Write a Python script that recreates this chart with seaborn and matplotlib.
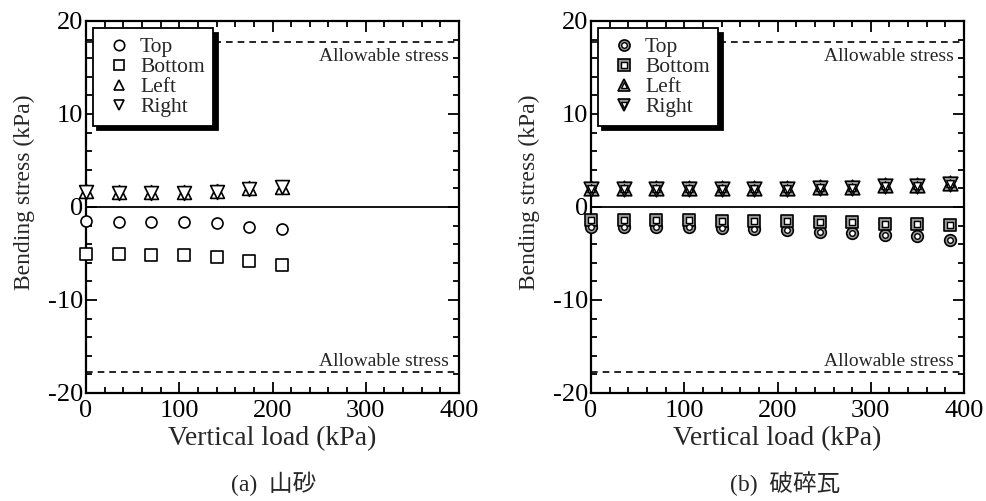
import numpy as np
import matplotlib
matplotlib.use("Agg")
import matplotlib.pyplot as plt
from matplotlib.lines import Line2D
from matplotlib.ticker import MultipleLocator
import seaborn as sns

# ── Data ──
load_a = [0, 35, 70, 105, 140, 175, 210]
top_a = [-1.5, -1.6, -1.6, -1.6, -1.7, -2.1, -2.35]
bottom_a = [-5.1, -5.1, -5.15, -5.2, -5.35, -5.85, -6.2]
left_a = [1.7, 1.6, 1.6, 1.6, 1.7, 2.0, 2.2]
right_a = [1.6, 1.5, 1.5, 1.5, 1.6, 1.9, 2.1]

load_b = [0, 35, 70, 105, 140, 175, 210, 245, 280, 315, 350, 385]
top_b = [-2.1, -2.2, -2.2, -2.2, -2.3, -2.4, -2.5, -2.65, -2.75, -3.0, -3.1, -3.5]
bottom_b = [-1.4, -1.45, -1.45, -1.45, -1.5, -1.5, -1.55, -1.6, -1.6, -1.8, -1.8, -1.95]
left_b = [2.0, 2.0, 2.0, 2.0, 2.0, 2.0, 2.05, 2.1, 2.15, 2.35, 2.4, 2.55]
right_b = [1.9, 1.9, 1.9, 1.9, 1.9, 1.9, 1.95, 2.0, 2.05, 2.25, 2.3, 2.45]

series_names = ["Top", "Bottom", "Left", "Right"]
series_markers = ["o", "s", "^", "v"]
allowable = 17.7
captions = ["(a)  山砂", "(b)  破碎瓦"]

sns.set_theme(style="ticks")
plt.rcParams["font.family"] = ["Liberation Serif", "Noto Sans CJK JP"]
plt.rcParams["axes.unicode_minus"] = False

fig = plt.figure(figsize=(9.87, 5.01), dpi=100)
ax_a = fig.add_axes([0.0871, 0.2156, 0.378, 0.7425])
ax_b = fig.add_axes([0.5988, 0.2156, 0.378, 0.7425])

outer_size = {"o": 70, "s": 75, "^": 110, "v": 110}
inner_size = {"o": 16, "s": 18, "^": 30, "v": 30}


def style_axes(ax):
    ax.set_xlim(0, 400)
    ax.set_ylim(-20, 20)
    ax.xaxis.set_major_locator(MultipleLocator(100))
    ax.xaxis.set_minor_locator(MultipleLocator(20))
    ax.yaxis.set_major_locator(MultipleLocator(10))
    ax.yaxis.set_minor_locator(MultipleLocator(2))
    ax.tick_params(which="both", direction="in", top=True, right=True,
                   width=1.3, colors="black", labelsize=19)
    ax.tick_params(axis="y", pad=2)
    ax.tick_params(axis="x", pad=5)
    ax.tick_params(which="major", length=8)
    ax.tick_params(which="minor", length=4.5)
    for sp in ax.spines.values():
        sp.set_linewidth(1.6)
        sp.set_color("black")
    ax.axhline(0, color="black", lw=1.3, zorder=1)
    ax.axhline(allowable, color="black", lw=1.2, ls=(0, (4, 3)), zorder=1)
    ax.axhline(-allowable, color="black", lw=1.2, ls=(0, (4, 3)), zorder=1)
    ax.text(389, 16.2, "Allowable stress", ha="right", va="center", fontsize=14)
    ax.text(389, -16.6, "Allowable stress", ha="right", va="center", fontsize=14)
    ax.set_xlabel("Vertical load (kPa)", fontsize=20, labelpad=3)
    ax.set_ylabel("Bending stress (kPa)", fontsize=17)
    ax.yaxis.set_label_coords(-0.137, 0.54)


def add_legend(ax, handles):
    leg = ax.legend(handles, series_names, loc="upper left",
                    bbox_to_anchor=(0.018, 0.98), fontsize=15.5,
                    frameon=True, fancybox=False, framealpha=1,
                    edgecolor="black", handletextpad=0.2, labelspacing=0.0,
                    borderpad=0.4, handlelength=1.6, borderaxespad=0,
                    shadow={"color": "black", "alpha": 1, "ox": 3, "oy": -3})
    leg.get_frame().set_linewidth(1.3)
    leg.set_zorder(5)


# ── (a) plain hollow markers ──
for ys, m in zip([top_a, bottom_a, left_a, right_a], series_markers):
    sns.scatterplot(x=load_a, y=ys, marker=m, s=outer_size[m] * 0.9, color="white",
                    edgecolor="black", linewidth=1.2, ax=ax_a, zorder=3, clip_on=False)
style_axes(ax_a)
handles_a = [Line2D([], [], ls="", marker=m, ms=7.5, mfc="white", mec="black", mew=1.2)
             for m in series_markers]
add_legend(ax_a, handles_a)

# ── (b) double markers (grey outer, white inner) ──
for ys, m in zip([top_b, bottom_b, left_b, right_b], series_markers):
    sns.scatterplot(x=load_b, y=ys, marker=m, s=outer_size[m], color="#9a9a9a",
                    edgecolor="black", linewidth=1.2, ax=ax_b, zorder=3, clip_on=False)
    sns.scatterplot(x=load_b, y=ys, marker=m, s=inner_size[m], color="white",
                    edgecolor="black", linewidth=1.0, ax=ax_b, zorder=4, clip_on=False)
style_axes(ax_b)
handles_b = [(Line2D([], [], ls="", marker=m, ms=8, mfc="#9a9a9a", mec="black", mew=1.2),
              Line2D([], [], ls="", marker=m, ms=4, mfc="white", mec="black", mew=1.0))
             for m in series_markers]
add_legend(ax_b, handles_b)

fig.text(0.277, 0.035, captions[0], ha="center", va="center", fontsize=17)
fig.text(0.795, 0.035, captions[1], ha="center", va="center", fontsize=17)

fig.savefig("out.png", dpi=100)
